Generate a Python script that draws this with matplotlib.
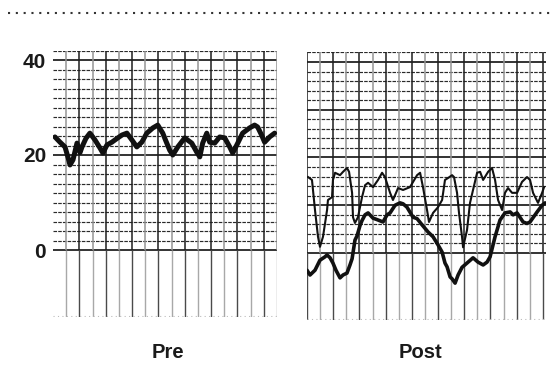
import matplotlib
matplotlib.use("Agg")
import matplotlib.pyplot as plt
from matplotlib.lines import Line2D
import numpy as np

plt.rcParams['font.family'] = ['Liberation Sans', 'DejaVu Sans']

# ---------------- data ----------------
panel_labels = ["Pre", "Post"]
y_ticks = [0, 20, 40]

pre_t = [0.15, 0.53, 0.91, 1.14, 1.29, 1.52, 1.82, 2.05, 2.20, 2.50,
         2.80, 3.18, 3.56, 3.79, 4.09, 4.47, 4.92, 5.23, 5.61, 5.98,
         6.36, 6.74, 7.12, 7.58, 7.95, 8.33, 8.56, 8.86, 9.09, 9.47,
         10.0, 10.53, 10.91, 11.14, 11.36, 11.67, 11.89, 12.27, 12.65, 13.03,
         13.41, 13.64, 14.02, 14.39, 14.92, 15.30, 15.53, 15.83, 16.06, 16.44,
         16.82]
pre_v = [23.8, 22.7, 21.7, 19.5, 17.9, 19.0, 22.5, 20.5, 21.7, 23.5,
         24.6, 23.2, 21.5, 20.4, 22.1, 22.7, 23.6, 24.2, 24.6, 23.2,
         21.7, 22.7, 24.6, 25.7, 26.3, 24.6, 23.0, 21.0, 20.0, 21.7,
         23.6, 22.5, 20.6, 19.6, 22.5, 24.6, 22.7, 22.5, 23.8, 23.6,
         21.7, 20.4, 22.5, 24.6, 25.7, 26.3, 25.9, 24.2, 22.7, 23.8,
         24.6]

post_thin_t = [0.08, 0.38, 0.61, 0.84, 0.99, 1.22, 1.53, 1.60, 1.91, 1.98,
               2.14, 2.52, 2.75, 3.05, 3.21, 3.44, 3.51, 3.66, 3.89, 4.20,
               4.43, 4.66, 5.04, 5.42, 5.73, 5.95, 6.34, 6.56, 6.95, 7.33,
               7.86, 8.40, 8.63, 8.85, 9.16, 9.31, 9.62, 10.0, 10.31, 10.53,
               10.76, 11.07, 11.22, 11.45, 11.60, 11.83, 11.91, 12.21, 12.44, 12.67,
               12.98, 13.21, 13.44, 13.82, 14.12, 14.35, 14.58, 14.89, 15.11, 15.34,
               15.65, 16.03, 16.41, 16.79, 17.02, 17.25, 17.63, 17.94, 18.09]
post_thin_v = [15.9, 15.3, 9.0, 3.4, 1.3, 3.4, 9.0, 11.1, 11.7, 15.3,
               16.8, 16.3, 17.0, 17.8, 17.0, 12.6, 7.5, 6.3, 7.5, 11.7,
               14.2, 14.7, 13.8, 15.3, 16.8, 15.9, 12.6, 11.1, 13.6, 13.2,
               13.8, 16.3, 16.8, 13.8, 9.0, 6.5, 8.4, 9.6, 11.1, 15.3,
               15.7, 16.3, 15.9, 12.6, 8.4, 3.4, 1.2, 4.8, 10.5, 13.2,
               16.8, 17.0, 15.3, 17.0, 17.8, 15.3, 11.1, 9.0, 12.6, 13.6,
               12.6, 12.6, 14.9, 15.9, 15.3, 12.6, 10.5, 12.6, 13.8]

post_thick_t = [0.0, 0.23, 0.61, 0.99, 1.37, 1.53, 1.76, 1.98, 2.21, 2.52,
                2.75, 3.05, 3.28, 3.44, 3.66, 3.82, 4.05, 4.20, 4.43, 4.66,
                5.04, 5.34, 5.80, 6.11, 6.34, 6.72, 6.87, 7.10, 7.33, 7.63,
                8.09, 8.40, 8.78, 9.24, 9.62, 10.0, 10.31, 10.53, 10.69, 10.92,
                11.07, 11.30, 11.53, 11.83, 12.21, 12.67, 13.05, 13.44, 13.74, 13.97,
                14.35, 14.73, 15.11, 15.50, 15.73, 16.03, 16.49, 16.79, 17.02, 17.56,
                17.94, 18.17]
post_thick_v = [-3.6, -4.6, -3.6, -1.5, -0.8, -0.4, -1.0, -2.1, -3.6, -5.2,
                -4.6, -4.2, -2.5, -1.2, 2.7, 3.6, 5.8, 6.8, 8.0, 8.4,
                7.3, 7.0, 6.5, 8.0, 8.4, 10.0, 10.2, 10.5, 10.3, 9.6,
                7.5, 7.2, 5.9, 4.4, 3.4, 1.7, 0.2, -2.1, -2.9, -5.0,
                -5.4, -6.3, -4.6, -3.0, -2.1, -1.0, -1.9, -2.5, -1.9, -0.8,
                3.4, 6.9, 8.4, 8.6, 8.0, 8.4, 6.5, 6.2, 6.5, 8.6,
                10.0, 10.5]

# ---------------- figure ----------------
W, H = 550, 390
fig = plt.figure(figsize=(W / 100, H / 100), dpi=100)
fig.patch.set_facecolor("white")


def make_axes(x0, x1, ytop, ybot):
    return fig.add_axes([x0 / W, 1 - ybot / H, (x1 - x0) / W, (ybot - ytop) / H])


YMIN, YMAX = -14, 42
ax1 = make_axes(53, 277, 50.5, 316.5)
ax2 = make_axes(307, 545.5, 52.4, 319.9)
ax1.set_xlim(0, 17)
ax2.set_xlim(0, 18.2)


def draw_grid(ax, ncols, first_col, major_step):
    # horizontal chart-paper lines (0 .. 42 every 2)
    for v in np.arange(0, 43, 2):
        if v % major_step == 0:
            ax.axhline(v, color="#111111", lw=1.2, zorder=1)
        else:
            ax.axhline(v, color="#2a2a2a", lw=0.85, ls=(0, (3.0, 1.0)), zorder=1)
    # vertical lines
    for c in range(first_col, ncols + 1):
        dark = (c % 2 == 0)
        ax.vlines(c, 0, YMAX, color="#1e1e1e" if dark else "#959595",
                  lw=1.1, zorder=1)
        ax.vlines(c, YMIN, 0, color="#4a4a4a" if dark else "#a8a8a8",
                  lw=1.0, zorder=1)
    ax.axhline(YMIN + 0.2, color="#bbbbbb", lw=0.8, ls=(0, (1, 3)), zorder=1)


draw_grid(ax1, 17, 1, 20)
draw_grid(ax2, 18, 0, 10)

ax1.plot(pre_t, pre_v, color="#111111", lw=3.6, solid_joinstyle="round",
         solid_capstyle="round", zorder=3)
ax2.plot(post_thin_t, post_thin_v, color="#111111", lw=1.5,
         solid_joinstyle="round", zorder=3)
ax2.plot(post_thick_t, post_thick_v, color="#111111", lw=2.6,
         solid_joinstyle="round", solid_capstyle="round", zorder=3)

for ax in (ax1, ax2):
    ax.set_ylim(YMIN, YMAX)
    ax.set_frame_on(False)
    ax.set_xticks([])

ax1.set_yticks(y_ticks)
ax1.set_yticklabels([str(v) for v in y_ticks])
ax1.tick_params(axis="y", length=0, pad=5, labelsize=15)
for lab in ax1.get_yticklabels():
    lab.set_fontweight("bold")
    lab.set_color("#1a1a1a")
ax2.set_yticks([])

# panel captions
fig.text(168 / W, 1 - 352 / H, panel_labels[0], ha="center", va="center",
         fontsize=14.5, fontweight="bold", color="#1a1a1a")
fig.text(420 / W, 1 - 352 / H, panel_labels[1], ha="center", va="center",
         fontsize=14.5, fontweight="bold", color="#1a1a1a")

# dotted rule at the top
fig.add_artist(Line2D([8 / W, 1.0], [1 - 13 / H, 1 - 13 / H],
                      transform=fig.transFigure, color="#333333",
                      lw=1.5, ls=(0, (1, 2.75))))

fig.savefig("out.png", dpi=100, facecolor="white")
